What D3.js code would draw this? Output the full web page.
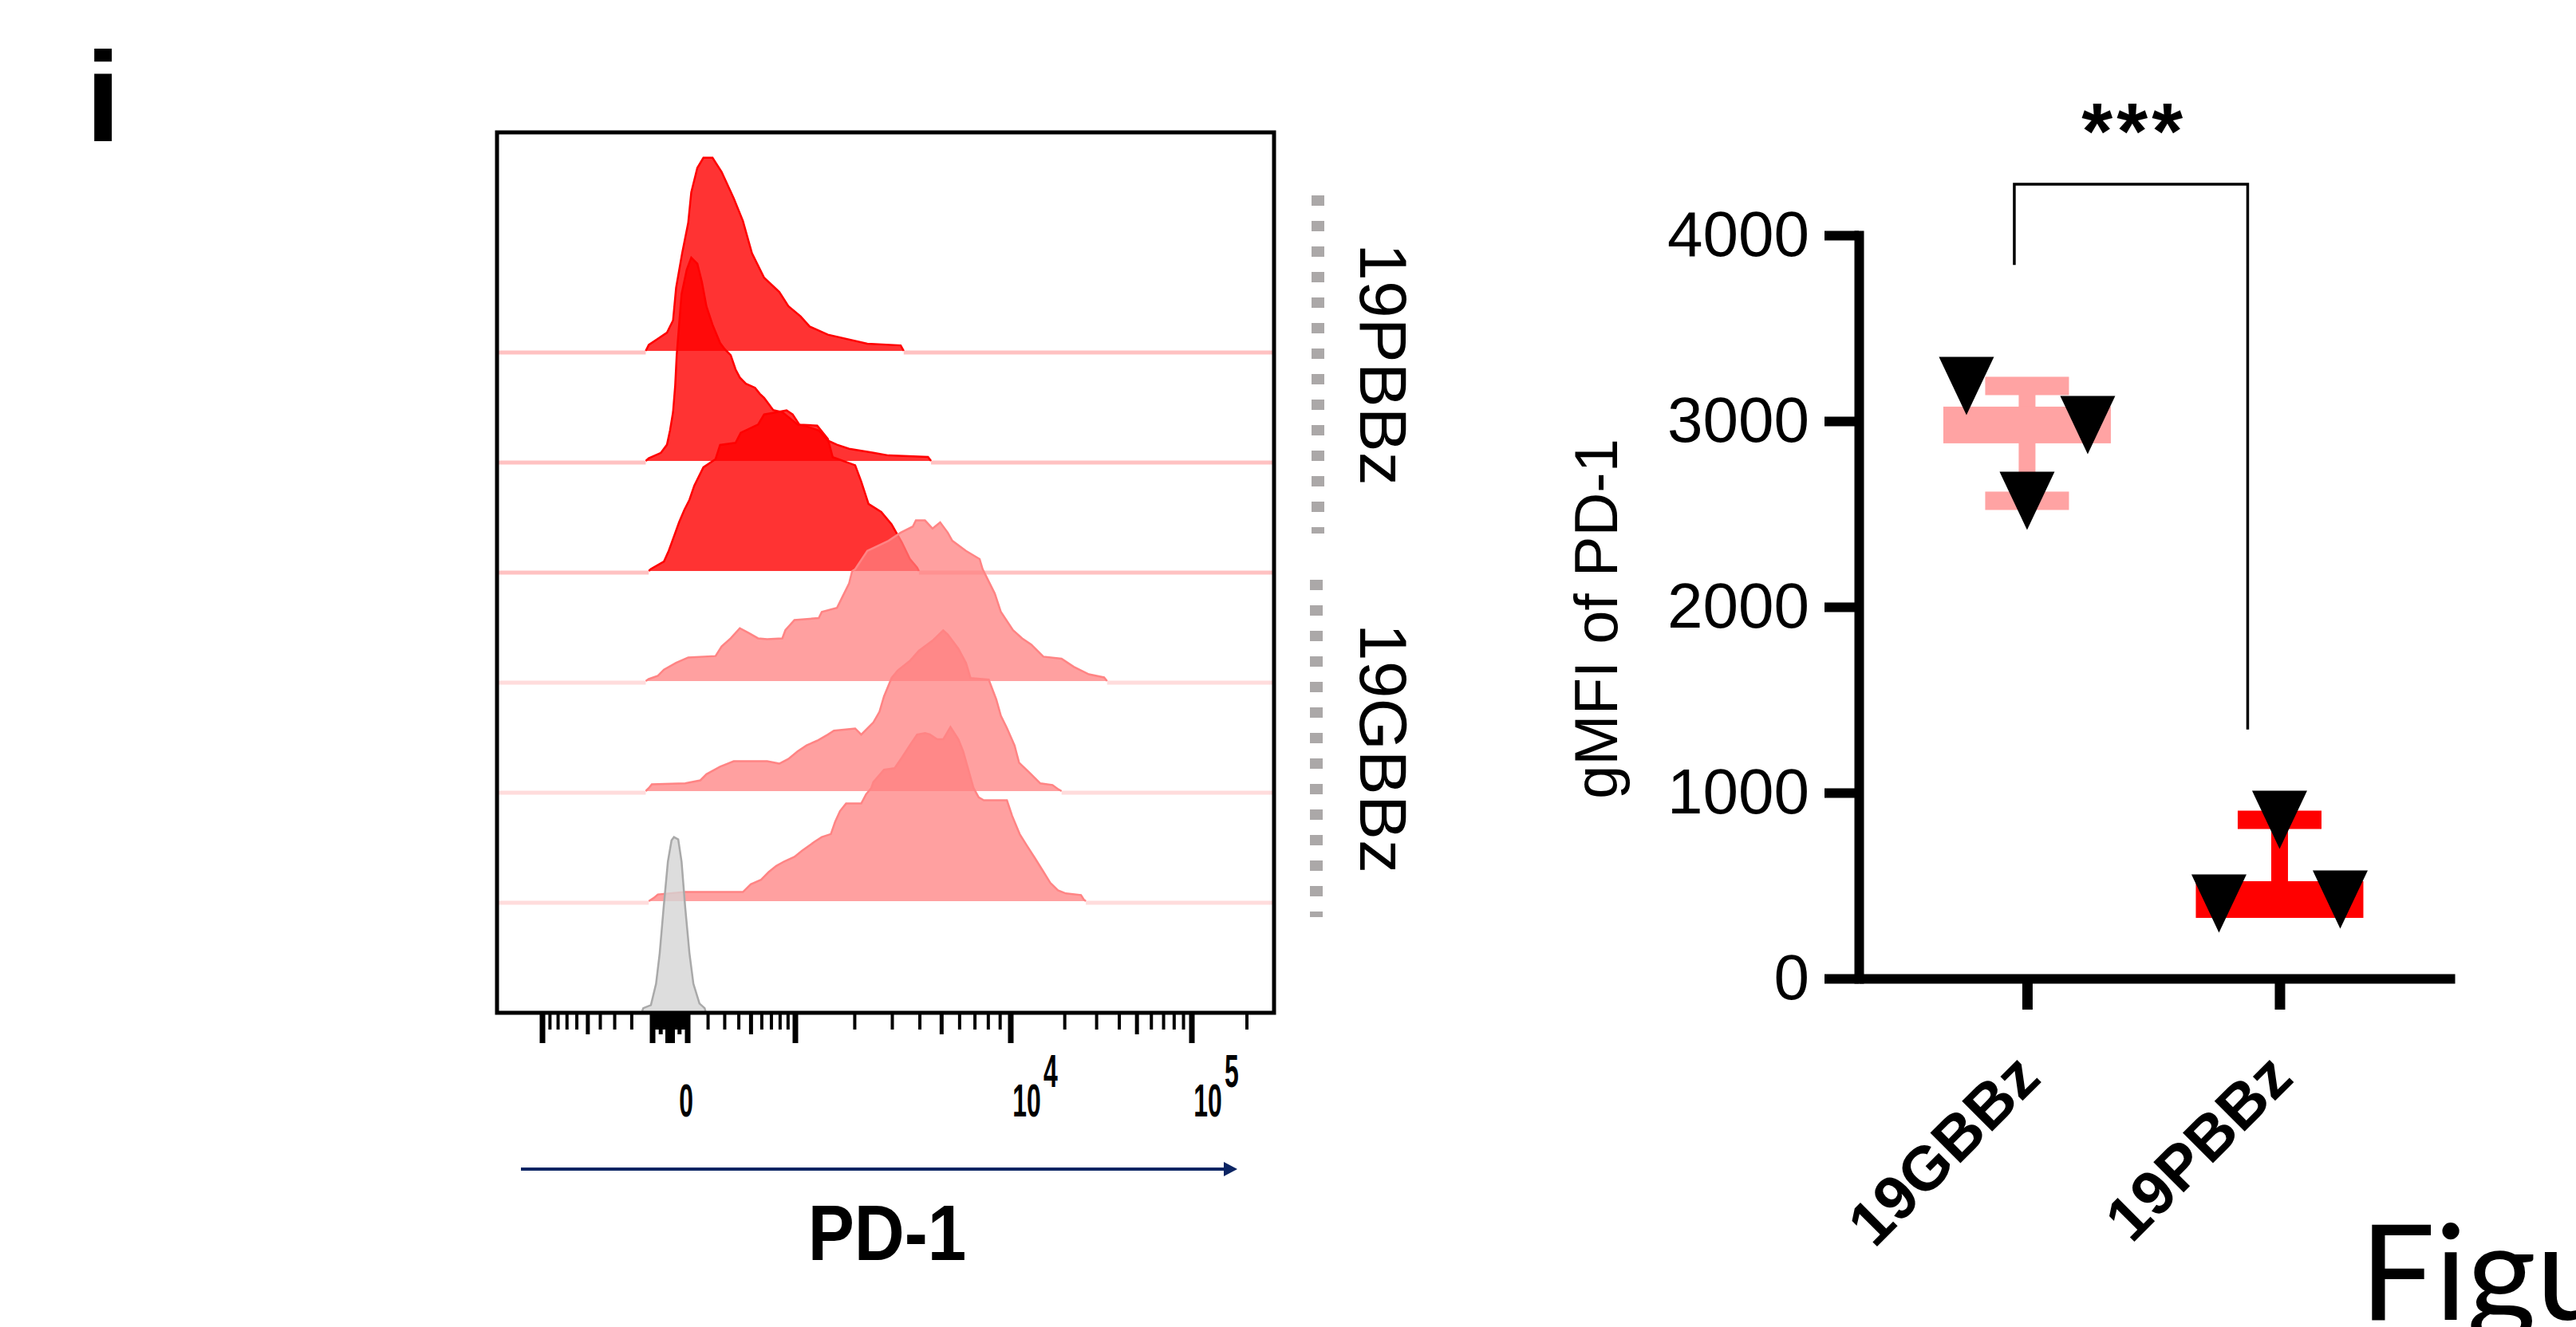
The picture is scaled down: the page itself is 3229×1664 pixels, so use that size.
<!DOCTYPE html>
<html>
<head>
<meta charset="utf-8">
<script src="https://cdnjs.cloudflare.com/ajax/libs/d3/7.8.5/d3.min.js"></script>
<style>
  body { margin: 0; background: #fff; }
  svg { display: block; }
</style>
</head>
<body>
<div id="chart"></div>
<script>
// ---------- data ----------

// offset histograms: [display channel (0-256), % of max]
var histP1 = [[49,0],[50,3],[53,6],[56,9],[58,15],[59,31],[61,48],[63,63],[64,78],[66,90],[68,95],[71,95],[74,88],[78,75],[81,64],[84,48],[88,36],[93,29],[96,22],[100,17],[103,12],[109,8],[122,3.5],[133,2.7],[134,0]];
var histP2 = [[49,0],[50,1.3],[54,4],[56,8],[57,15],[58,24],[58.7,37],[59.2,52],[60,67],[60.8,82],[62.5,94],[64,100],[66,97],[67.5,88],[69,76],[71,67],[73.5,58],[75,55],[77,52],[78.6,45],[80,41],[82,38],[85,36],[86.6,33],[88,31],[89.5,28],[91,25],[94,24],[99,18],[102,17],[106,15],[109,10],[112,8],[116,6],[124,4],[129,2.7],[142,2],[143,0]];
var histP3 = [[50,0],[50.7,1],[55,4.7],[56.6,10],[58.3,17],[60,24],[61.7,30],[63.4,35],[65,42],[68,51],[72,55],[73.5,62],[78.6,63],[80.3,68],[86,72],[88,77],[92,78],[95.4,79],[97.4,77],[99.6,72],[105.5,71.5],[109,65],[110.6,56],[118,52],[120,44],[122.4,33],[126.6,29],[130,23],[133.4,14],[136,6],[138.4,1.7],[139,0]];
var histG1 = [[49,0],[50,1],[53,2.6],[55,5.6],[59,9],[63,11.6],[72,12.3],[74,17],[77,21],[80,26],[83,23.6],[86,21],[89,20.6],[94,21],[95,25],[98,30],[106,31],[107,34],[112,36],[114,42],[116,48],[117,54],[118,55],[122,64],[129,69],[133,73],[137,76],[138,79],[141,79],[143.5,75],[146,78],[148.5,73],[150,69],[154.5,64],[159,60],[160,55],[161,52],[164,43],[166,34],[170,25],[173,21],[176,18],[180,12],[186,11],[190,7],[195,3.3],[200,1.8],[201,0]];
var histG2 = [[49,0],[50,1.5],[51,3.3],[62,3.8],[67,5.3],[69,8.3],[73.5,12],[78,14.7],[89,14.7],[93,13.5],[96,15.8],[99,19.5],[102,22.5],[105.5,24.8],[109,27.8],[111,29.7],[118,30.8],[120,27.8],[124,33.8],[126,39],[127.5,46.6],[130,55.6],[132,59.3],[136,64],[139,69],[143.5,74],[147,79],[148.5,77],[152,70],[154.5,63],[156,55.6],[162,54.8],[164.5,45],[166,37],[168,31],[170.5,22.5],[172,14],[175.5,9],[179,3.8],[183,3],[185,0.8],[186,0]];
var histG3 = [[50,0],[51.6,1.5],[53,3.3],[62,4.5],[81,4.5],[83.6,8.3],[87,10.5],[89.5,14.3],[92,17.3],[94.6,19.5],[98,21.8],[100.5,24.8],[104.7,29.3],[107,31.5],[110,33],[111.4,39],[113,44.3],[115,48],[120,48],[121.6,52.6],[123.3,55.6],[124,58.6],[127.5,64.6],[131,65.4],[133.4,70.6],[136,76.6],[138.4,81.9],[141,82.6],[142.6,82],[145,79.6],[147,79.6],[149.4,85.6],[152,79.6],[153.6,73.6],[155.3,64.6],[157,55.6],[158.7,51],[160.4,49.6],[168,49.6],[169.7,42],[172.2,33],[174.7,27],[177.3,21],[179.8,15],[182.3,9],[184.8,5.3],[187.4,3.8],[192.4,3],[193.3,0.8],[194,0]];
var histIso = [[47.8,0],[48.2,1.5],[50.7,3],[52.4,13.5],[53.6,28.5],[54.9,51],[56.3,73.6],[57.5,84],[58.3,85.6],[59.7,84.5],[60.8,73.6],[62,51],[63.4,28.5],[64.7,13.5],[66.7,3.8],[68.4,1.5],[68.7,0]];

var histTracks = [histP1, histP2, histP3, histG1, histG2, histG3, histIso];
var trackGroup = ["P", "P", "P", "G", "G", "G", "iso"];

// biexponential PD-1 axis
var majorTicks = [-1000, -100, -10, 0, 10, 100, 1000, 10000, 100000];
var midTicks = [-500, -50, 50, 500, 5000, 50000];
var minorSteps = [2, 3, 4, 6, 7, 8, 9];
var tickLabels = [{v: 0, base: "0", sup: ""}, {v: 10000, base: "10", sup: "4"}, {v: 100000, base: "10", sup: "5"}];

// gMFI of PD-1 dot plot
var groups = ["19GBBz", "19PBBz"];
var gmfiGBBz = [3189, 2571, 2979];
var gmfiPBBz = [403, 854, 425];
var gmfiTicks = [0, 1000, 2000, 3000, 4000];
var groupColors = ["#ffa3a3", "#ff0000"];

// ---------- svg ----------
var svgWidth = 3229;
var svgHeight = 1664;

var svg = d3.select("#chart")
    .append("svg")
    .attr("width", svgWidth)
    .attr("height", svgHeight)
    .style("font-family", "'Liberation Sans', Arial, sans-serif");

svg.append("rect").attr("width", svgWidth).attr("height", svgHeight).attr("fill", "#fff");

// panel letter
svg.append("text")
    .attr("x", 107)
    .attr("y", 177)
    .attr("font-size", 160)
    .attr("font-weight", "bold")
    .text("i");

// ---------- histogram panel ----------
var box = {left: 623, top: 166, right: 1597, bottom: 1270};

var chX = d3.scaleLinear().domain([0, 256]).range([box.left, box.right]);
var trackBase = d3.scaleLinear().domain([0, 6]).range([442, box.bottom]);
var countH = d3.scaleLinear().domain([0, 100]).range([0, 255]);

var styles = {
    P: {fill: "#ff0000", opacity: 0.8, edge: "#ff0000", zero: "#ffc2c2"},
    G: {fill: "#ff8080", opacity: 0.75, edge: "#ff8484", zero: "#ffdcdc"},
    iso: {fill: "#d4d4d4", opacity: 0.8, edge: "#a9a9a9", zero: null}
};

var histGroup = svg.append("g");

histTracks.forEach(function(pts, i) {
    var base = trackBase(i);
    var st = styles[trackGroup[i]];
    var first = pts[0][0];
    var last = pts[pts.length - 1][0];

    // zero line either side of the histogram
    if (st.zero) {
        histGroup.append("line")
            .attr("x1", box.left).attr("x2", chX(first))
            .attr("y1", base).attr("y2", base)
            .attr("stroke", st.zero).attr("stroke-width", 5);
        histGroup.append("line")
            .attr("x1", chX(last)).attr("x2", box.right)
            .attr("y1", base).attr("y2", base)
            .attr("stroke", st.zero).attr("stroke-width", 5);
    }

    var area = d3.area()
        .x(d => chX(d[0]))
        .y0(base - 2)
        .y1(d => base - 2 - countH(d[1]));

    var outline = d3.line()
        .x(d => chX(d[0]))
        .y(d => base - 2 - countH(d[1]));

    histGroup.append("path")
        .datum(pts)
        .attr("d", area)
        .attr("fill", st.fill)
        .attr("fill-opacity", st.opacity);

    histGroup.append("path")
        .datum(pts)
        .attr("d", outline)
        .attr("fill", "none")
        .attr("stroke", st.edge)
        .attr("stroke-width", 2.5);
});

// frame
svg.append("rect")
    .attr("x", box.left)
    .attr("y", box.top)
    .attr("width", box.right - box.left)
    .attr("height", box.bottom - box.top)
    .attr("fill", "none")
    .attr("stroke", "#000")
    .attr("stroke-width", 5);

// biex scale (symlog, pinned at the decades)
var biex = d3.scaleSymlog()
    .constant(300)
    .domain([-1000, -100, 0, 100, 1000, 10000, 100000])
    .range([680, 818, 840, 862, 997, 1267, 1494]);

var minorTicks = [];
[10, 100].forEach(function(b) {
    minorSteps.forEach(function(k) { minorTicks.push(-k * b); });
});
[10, 100, 1000, 10000].forEach(function(b) {
    minorSteps.forEach(function(k) { minorTicks.push(k * b); });
});
minorTicks.push(200000);

var tickRows = [
    {vals: minorTicks, len: 21, w: 4},
    {vals: midTicks, len: 27, w: 5},
    {vals: majorTicks, len: 38, w: 7}
];

var tickGroup = svg.append("g");
tickRows.forEach(function(row) {
    tickGroup.selectAll(null)
        .data(row.vals)
        .enter()
        .append("line")
        .attr("x1", d => biex(d))
        .attr("x2", d => biex(d))
        .attr("y1", box.bottom)
        .attr("y2", box.bottom + row.len)
        .attr("stroke", "#000")
        .attr("stroke-width", row.w);
});

// condensed tick labels
var labelG = svg.append("g").selectAll("g")
    .data(tickLabels)
    .enter()
    .append("g")
    .attr("transform", d => `translate(${biex(d.v) + 20},1400) scale(0.55,1)`);

labelG.append("text")
    .attr("class", "base")
    .attr("text-anchor", "middle")
    .attr("font-size", 58)
    .attr("font-weight", "bold")
    .text(d => d.base);

labelG.each(function(d) {
    if (!d.sup) return;
    var g = d3.select(this);
    var w = g.select("text.base").node().getComputedTextLength();
    g.append("text")
        .attr("x", w / 2 + 6)
        .attr("y", -37)
        .attr("font-size", 58)
        .attr("font-weight", "bold")
        .text(d.sup);
});

// axis arrow
svg.append("line")
    .attr("x1", 653).attr("x2", 1538)
    .attr("y1", 1466).attr("y2", 1466)
    .attr("stroke", "#0b2463")
    .attr("stroke-width", 4);
svg.append("path")
    .attr("d", "M1534,1457 L1551,1466 L1534,1475 Z")
    .attr("fill", "#0b2463");

svg.append("text")
    .attr("transform", "translate(1112,1580) scale(0.89,1)")
    .attr("text-anchor", "middle")
    .attr("font-size", 98)
    .attr("font-weight", "bold")
    .text("PD-1");

// group brackets on the right
var brackets = [
    {label: "19PBBz", y1: 245, y2: 669, x: 1652},
    {label: "19GBBz", y1: 727, y2: 1150, x: 1650}
];
brackets.forEach(function(b) {
    svg.append("line")
        .attr("x1", b.x).attr("x2", b.x)
        .attr("y1", b.y1).attr("y2", b.y2)
        .attr("stroke", "#aba8a8")
        .attr("stroke-width", 16)
        .attr("stroke-dasharray", "13,19");
    svg.append("text")
        .attr("transform", `translate(1705,${(b.y1 + b.y2) / 2}) rotate(90)`)
        .attr("text-anchor", "middle")
        .attr("font-size", 84)
        .text(b.label);
});

// ---------- gMFI dot plot ----------
var yS = d3.scaleLinear().domain([0, 4000]).range([1227, 295]);
var xS = d3.scalePoint().domain(groups).range([2330, 3077]).padding(0.68).align(0.49);

var yAxis = svg.append("g")
    .attr("transform", "translate(2330,0)")
    .call(d3.axisLeft(yS).tickValues(gmfiTicks).tickSize(43).tickPadding(19).tickSizeOuter(0).tickFormat(d3.format("d")));
yAxis.attr("font-family", null).attr("font-size", 80);
yAxis.select(".domain").attr("stroke-width", 12).attr("stroke-linecap", "square");
yAxis.selectAll(".tick line").attr("stroke-width", 12);
yAxis.selectAll(".tick text").attr("fill", "#000");

var xAxis = svg.append("g")
    .attr("transform", "translate(0,1227)")
    .call(d3.axisBottom(xS).tickSize(39).tickSizeOuter(0).tickFormat(""));
xAxis.select(".domain").attr("stroke-width", 12);
xAxis.selectAll(".tick line").attr("stroke-width", 13);

svg.selectAll(".catLabel")
    .data(groups)
    .enter()
    .append("text")
    .attr("class", "catLabel")
    .attr("transform", d => `translate(${xS(d) + 20},1355) rotate(-45)`)
    .attr("text-anchor", "end")
    .attr("font-size", 78)
    .attr("font-weight", "bold")
    .text(d => d);

svg.append("text")
    .attr("transform", "translate(2027,776) rotate(-90)")
    .attr("text-anchor", "middle")
    .attr("font-size", 76)
    .text("gMFI of PD-1");

// median with range, then points
var groupData = [gmfiGBBz, gmfiPBBz];
var jitter = 76;
var plot = svg.append("g");

groupData.forEach(function(vals, gi) {
    var cx = xS(groups[gi]);
    var col = groupColors[gi];
    var ext = d3.extent(vals);
    var med = d3.median(vals);

    plot.append("rect")
        .attr("x", cx - 10.5).attr("width", 21)
        .attr("y", yS(ext[1])).attr("height", yS(ext[0]) - yS(ext[1]))
        .attr("fill", col);
    ext.forEach(function(v) {
        plot.append("rect")
            .attr("x", cx - 52.5).attr("width", 105)
            .attr("y", yS(v) - 11.5).attr("height", 23)
            .attr("fill", col);
    });
    plot.append("rect")
        .attr("x", cx - 105).attr("width", 210)
        .attr("y", yS(med) - 23).attr("height", 46)
        .attr("fill", col);

    plot.selectAll(null)
        .data(vals)
        .enter()
        .append("path")
        .attr("d", function(d, i) {
            var px = cx + (i - 1) * jitter;
            var py = yS(d);
            return `M${px - 34.5},${py - 36.5}L${px + 34.5},${py - 36.5}L${px},${py + 36.5}Z`;
        })
        .attr("fill", "#000");
});

// significance bracket
var bxL = xS("19GBBz") - 16;
var bxR = xS("19PBBz") - 40;
svg.append("path")
    .attr("d", `M${bxL},${yS(3840)}V${yS(4275)}H${bxR}V${yS(1340)}`)
    .attr("fill", "none")
    .attr("stroke", "#000")
    .attr("stroke-width", 3.5);

svg.append("text")
    .attr("x", (bxL + bxR) / 2 + 4)
    .attr("y", 199)
    .attr("text-anchor", "middle")
    .attr("font-size", 100)
    .attr("font-weight", "bold")
    .attr("letter-spacing", 5)
    .text("***");

// cut-off caption in the corner
svg.append("text")
    .attr("x", 2958)
    .attr("y", 1655)
    .attr("font-family", "Lato, 'Open Sans', sans-serif")
    .attr("font-size", 167)
    .text("Figure");
</script>
</body>
</html>
